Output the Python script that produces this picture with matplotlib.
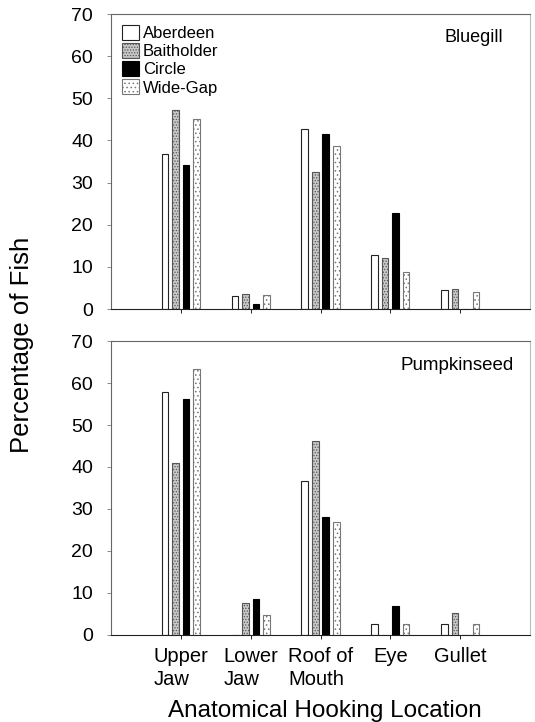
import matplotlib
matplotlib.use("Agg")
import matplotlib.pyplot as plt
import numpy as np

plt.rcParams['font.family'] = ['Liberation Sans', 'DejaVu Sans']
plt.rcParams['hatch.linewidth'] = 0.6

categories = ["Upper\nJaw", "Lower\nJaw", "Roof of\nMouth", "Eye", "Gullet"]
hooks = ["Aberdeen", "Baitholder", "Circle", "Wide-Gap"]

bluegill = {
    "Aberdeen":   [36.7, 3.2, 42.6, 12.7, 4.4],
    "Baitholder": [47.2, 3.5, 32.4, 12.0, 4.7],
    "Circle":     [34.2, 1.1, 41.6, 22.9, 0.0],
    "Wide-Gap":   [45.2, 3.3, 38.7, 8.7, 4.0],
}
pumpkinseed = {
    "Aberdeen":   [57.9, 0.0, 36.7, 2.5, 2.5],
    "Baitholder": [40.9, 7.5, 46.2, 0.0, 5.2],
    "Circle":     [56.1, 8.6, 28.0, 7.0, 0.0],
    "Wide-Gap":   [63.4, 4.8, 26.9, 2.5, 2.5],
}
yticks = [0, 10, 20, 30, 40, 50, 60, 70]

styles = {
    "Aberdeen":   dict(facecolor="white", edgecolor="#222222", hatch=None),
    "Baitholder": dict(facecolor="#c8c8c8", edgecolor="#555555", hatch="......"),
    "Circle":     dict(facecolor="black", edgecolor="black", hatch=None),
    "Wide-Gap":   dict(facecolor="white", edgecolor="#777777", hatch="...."),
}

fig = plt.figure(figsize=(5.35, 7.22), dpi=100)
ax1 = fig.add_axes([0.2075, 0.5720, 0.7832, 0.4086])
ax2 = fig.add_axes([0.2075, 0.1205, 0.7832, 0.4072])

x = np.arange(1, len(categories) + 1)
step = 0.15
width = 0.095

def draw(ax, data, label, lx, ly, fs):
    handles = []
    for i, h in enumerate(hooks):
        st = styles[h]
        vals = data[h]
        b = ax.bar(x + (i - 1.5) * step, vals, width=width, facecolor=st["facecolor"],
                   edgecolor=st["edgecolor"], hatch=st["hatch"], linewidth=0.8, label=h)
        handles.append(b)
    ax.set_xlim(0, 6)
    ax.set_ylim(0, 70)
    ax.set_yticks(yticks)
    ax.set_xticks(x)
    ax.tick_params(axis='y', labelsize=14, length=3, width=0.6, color="#777777", pad=10)
    ax.tick_params(axis='x', length=3, width=0.6, direction='out', pad=6)
    for s in ax.spines.values():
        s.set_linewidth(0.8)
        s.set_color("#666666")
    ax.spines['bottom'].set_color("#222222")
    ax.spines['right'].set_color("#bbbbbb")
    ax.text(lx, ly, label, transform=ax.transAxes, ha='right', va='center', fontsize=fs)
    return handles

h1 = draw(ax1, bluegill, "Bluegill", 0.936, 0.922, 13)
ax1.set_xticklabels([])
draw(ax2, pumpkinseed, "Pumpkinseed", 0.962, 0.918, 13.5)
ax2.set_xticklabels(categories, fontsize=14.5, multialignment='left', linespacing=1.25)

ax1.legend(handles=h1, loc='upper left', frameon=False, fontsize=12,
           handlelength=1.0, handleheight=1.0, handletextpad=0.25,
           labelspacing=0.12, borderaxespad=0.45, borderpad=0.2)

fig.text(0.042, 0.522, "Percentage of Fish", rotation=90, ha='center', va='center', fontsize=18.5)
fig.text(0.607, 0.007, "Anatomical Hooking Location", ha='center', va='baseline', fontsize=17.5)

fig.savefig("out.png", dpi=100)
